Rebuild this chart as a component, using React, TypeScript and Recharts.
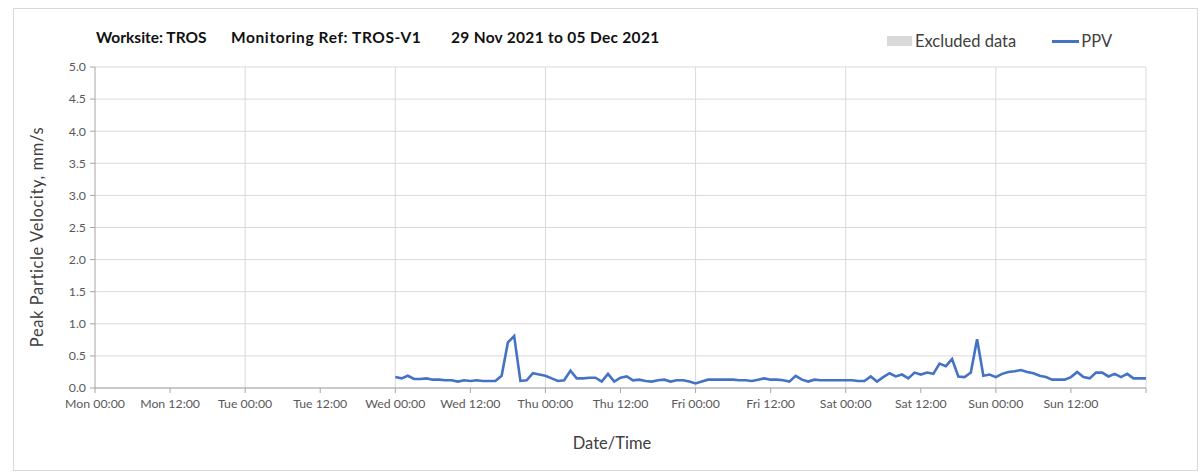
import { CartesianGrid, Line, LineChart, ReferenceLine, XAxis, YAxis } from "recharts";

// hourly PPV readings (mm/s), first reading Wed 00:00
const firstHour = 48;
const ppvWed = [0.17, 0.15, 0.19, 0.14, 0.14, 0.15, 0.13, 0.13, 0.12, 0.12, 0.1, 0.12, 0.11, 0.12, 0.11, 0.11, 0.11, 0.19, 0.71, 0.81, 0.11, 0.12, 0.23, 0.21];
const ppvThu = [0.19, 0.15, 0.11, 0.12, 0.27, 0.15, 0.15, 0.16, 0.16, 0.1, 0.22, 0.1, 0.16, 0.18, 0.12, 0.13, 0.11, 0.1, 0.12, 0.13, 0.1, 0.12, 0.12, 0.1];
const ppvFri = [0.07, 0.1, 0.13, 0.13, 0.13, 0.13, 0.13, 0.12, 0.12, 0.11, 0.13, 0.15, 0.13, 0.13, 0.12, 0.1, 0.19, 0.13, 0.1, 0.13, 0.12, 0.12, 0.12, 0.12];
const ppvSat = [0.12, 0.12, 0.11, 0.11, 0.18, 0.1, 0.17, 0.23, 0.18, 0.21, 0.15, 0.24, 0.21, 0.24, 0.22, 0.38, 0.34, 0.45, 0.18, 0.17, 0.24, 0.76, 0.19, 0.21];
const ppvSun = [0.17, 0.22, 0.25, 0.26, 0.28, 0.25, 0.23, 0.19, 0.17, 0.13, 0.13, 0.13, 0.17, 0.25, 0.17, 0.15, 0.24, 0.24, 0.18, 0.22, 0.17, 0.22, 0.15, 0.15, 0.15];

const xTicks = [0, 12, 24, 36, 48, 60, 72, 84, 96, 108, 120, 132, 144, 156, 168];
const xTickLabels = [
  "Mon 00:00", "Mon 12:00", "Tue 00:00", "Tue 12:00", "Wed 00:00", "Wed 12:00", "Thu 00:00",
  "Thu 12:00", "Fri 00:00", "Fri 12:00", "Sat 00:00", "Sat 12:00", "Sun 00:00", "Sun 12:00", "",
];
const dayLines = [24, 48, 72, 96, 120, 144, 168];
const yTicks = [0, 0.5, 1, 1.5, 2, 2.5, 3, 3.5, 4, 4.5, 5];

const data = [...ppvWed, ...ppvThu, ...ppvFri, ...ppvSat, ...ppvSun].map((ppv, i) => ({
  hour: firstHour + i,
  ppv,
}));

const font = "Lato, 'Open Sans', sans-serif";
const tickStyle = { fontSize: 12.3, fill: "#595959", fontFamily: font };
const titleStyle = { position: "absolute" as const, top: 28, fontSize: 15.5, fontWeight: 700, color: "#111", whiteSpace: "nowrap" as const };

export default function App() {
  return (
    <div style={{ position: "absolute", left: 0, top: 0, width: 1203, height: 475, background: "#fff", fontFamily: font }}>
      <div style={{ position: "absolute", left: 13, top: 8, width: 1183, height: 461, border: "1px solid #d9d9d9" }} />

      <span style={{ ...titleStyle, left: 96 }}>Worksite: TROS</span>
      <span style={{ ...titleStyle, left: 231, letterSpacing: 0.6 }}>Monitoring Ref: TROS-V1</span>
      <span style={{ ...titleStyle, left: 451, letterSpacing: 0.3 }}>29 Nov 2021 to 05 Dec 2021</span>

      <div style={{ position: "absolute", top: 31, left: 887, fontSize: 16.5, color: "#404040", display: "flex", alignItems: "center", whiteSpace: "nowrap" }}>
        <span style={{ display: "inline-block", width: 25, height: 10, background: "#d9d9d9", marginRight: 3 }} />
        <span>Excluded data</span>
        <span style={{ display: "inline-block", width: 27, height: 3, background: "#4472c4", marginLeft: 36, marginRight: 2 }} />
        <span>PPV</span>
      </div>

      <div
        style={{
          position: "absolute", left: 37, top: 237, fontSize: 16.5, letterSpacing: 0.6, color: "#404040", whiteSpace: "nowrap",
          transform: "translate(-50%, -50%) rotate(-90deg)",
        }}
      >
        Peak Particle Velocity, mm/s
      </div>
      <div style={{ position: "absolute", left: 612, top: 443, fontSize: 16.5, color: "#404040", transform: "translate(-50%, -50%)" }}>
        Date/Time
      </div>

      <div style={{ position: "absolute", left: 0, top: 0 }}>
        <LineChart width={1203} height={475} data={data} margin={{ top: 67, right: 57, left: 35, bottom: 57 }}>
          <CartesianGrid vertical={false} stroke="#d9d9d9" />
          {dayLines.map((h) => (
            <ReferenceLine key={h} x={h} stroke="#d9d9d9" />
          ))}
          <XAxis
            dataKey="hour"
            type="number"
            domain={[0, 168]}
            ticks={xTicks}
            interval={0}
            height={30}
            tickSize={5}
            tickMargin={6}
            stroke="#a6a6a6"
            tick={tickStyle}
            tickFormatter={(v: number) => xTickLabels[xTicks.indexOf(v)] ?? ""}
          />
          <YAxis
            type="number"
            domain={[0, 5]}
            ticks={yTicks}
            interval={0}
            width={60}
            tickSize={5}
            tickMargin={4}
            stroke="#a6a6a6"
            tick={tickStyle}
            tickFormatter={(v: number) => v.toFixed(1)}
          />
          <Line
            type="linear"
            dataKey="ppv"
            stroke="#4472c4"
            strokeWidth={2.6}
            dot={false}
            isAnimationActive={false}
          />
        </LineChart>
      </div>
    </div>
  );
}
